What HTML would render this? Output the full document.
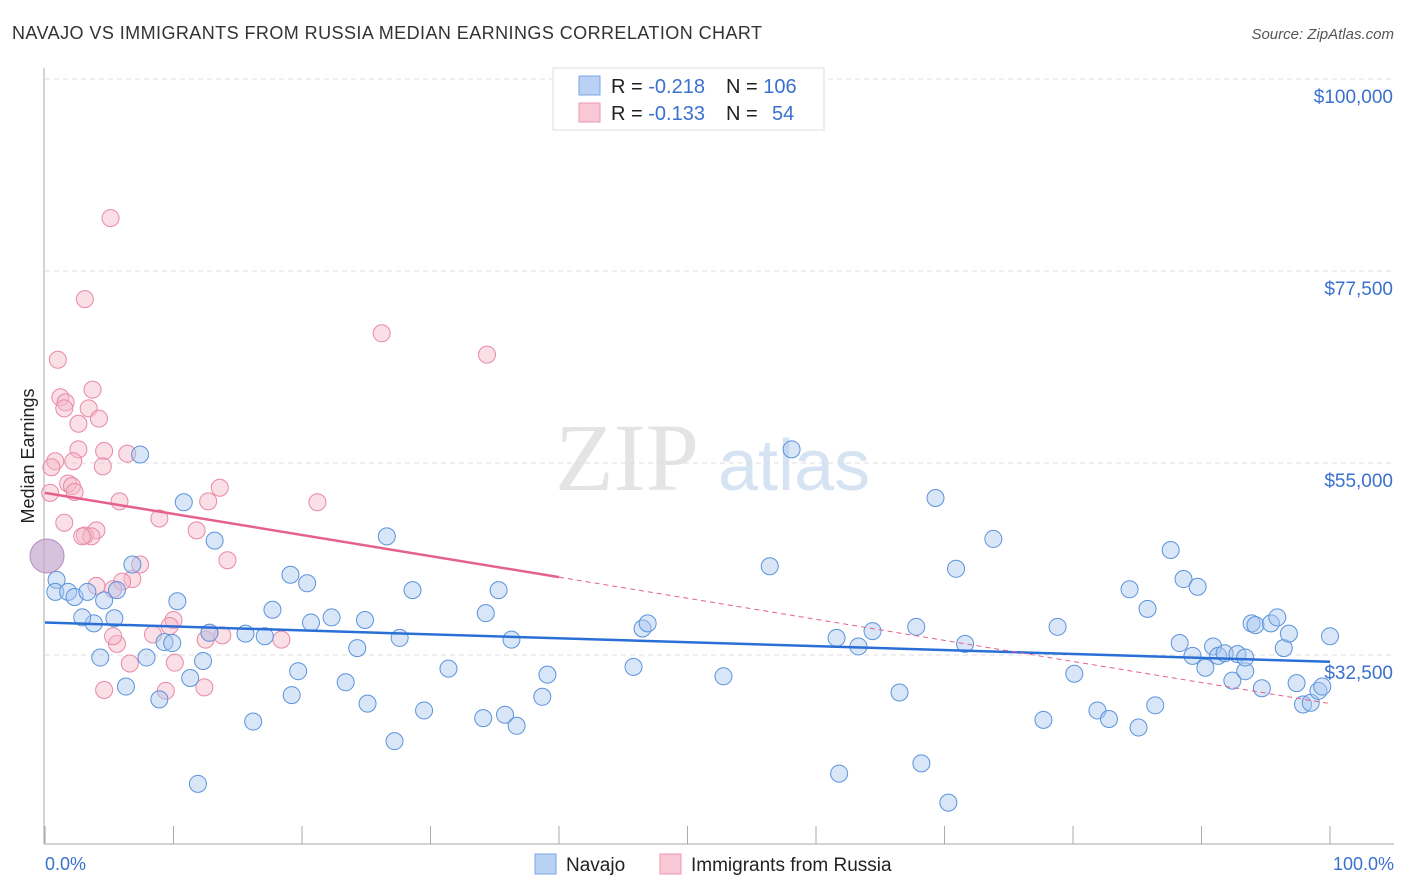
<!DOCTYPE html>
<html><head><meta charset="utf-8"><style>
body{margin:0;background:#fff;font-family:"Liberation Sans",sans-serif;}
svg{display:block}
</style></head><body>
<svg id="chart" width="1406" height="892" xmlns="http://www.w3.org/2000/svg">
<text x="12" y="39" font-size="18" fill="#333" textLength="750">NAVAJO VS IMMIGRANTS FROM RUSSIA MEDIAN EARNINGS CORRELATION CHART</text>
<text x="1394" y="39" font-size="15" fill="#555" font-style="italic" text-anchor="end">Source: ZipAtlas.com</text>
<text x="34" y="456" font-size="18" fill="#222" text-anchor="middle" transform="rotate(-90 34 456)">Median Earnings</text>
<text x="555" y="490" font-size="96" fill="#e4e4e4" font-family="Liberation Serif, serif">ZIP</text>
<text x="718" y="490" font-size="72" fill="#d6e3f3">atlas</text>
<g id="grid"></g><g id="marks"></g>
<g>
<rect x="553" y="68" width="271" height="62" fill="#fff" stroke="#ddd"/>
<rect x="579" y="76" width="21" height="19" fill="#b9d2f3" stroke="#7aa6e4"/>
<rect x="579" y="103" width="21" height="19" fill="#f9c8d6" stroke="#ee97b0"/>
<text x="611" y="93" font-size="20" fill="#222">R = <tspan fill="#3a70d0">-0.218</tspan></text>
<text x="726" y="93" font-size="20" fill="#222">N = <tspan fill="#3a70d0">106</tspan></text>
<text x="611" y="120" font-size="20" fill="#222">R = <tspan fill="#3a70d0">-0.133</tspan></text>
<text x="726" y="120" font-size="20" fill="#222">N = <tspan fill="#3a70d0" x="772">54</tspan></text>
</g>
<g>
<rect x="535" y="854" width="21" height="20" fill="#b9d2f3" stroke="#7aa6e4"/>
<text x="566" y="871" font-size="19" fill="#222">Navajo</text>
<rect x="660" y="854" width="21" height="20" fill="#f9c8d6" stroke="#ee97b0"/>
<text x="691" y="871" font-size="19" fill="#222">Immigrants from Russia</text>
</g>
<text x="45" y="870" font-size="18" fill="#3a70d0">0.0%</text>
<text x="1394" y="870" font-size="18" fill="#3a70d0" text-anchor="end">100.0%</text>
</svg>
<script>
const yTicks=[100000,77500,55000,32500];
const yTickLabels=["$100,000","$77,500","$55,000","$32,500"];
const xTicks=[0,10,20,30,40,50,60,70,80,90,100];
const navajoX=[0.9,0.8,1.8,2.3,3.3,3.8,2.9,4.6,5.4,5.6,4.3,6.3,6.8,7.4,7.9,8.9,9.3,9.9,10.3,10.8,11.3,12.3,12.8,13.2,15.6,16.2,17.1,17.7,19.1,19.2,19.7,20.4,20.7,22.3,23.4,24.3,24.9,25.1,26.6,27.2,27.6,28.6,29.5,31.4,34.1,34.3,35.3,35.8,36.3,36.7,38.7,39.1,45.8,46.5,46.9,52.8,56.4,58.1,61.6,61.8,63.3,64.4,66.5,67.8,68.2,69.3,70.3,70.9,71.6,73.8,77.7,78.8,80.1,81.9,82.8,84.4,85.1,85.8,86.4,87.6,88.3,88.6,89.3,89.7,90.3,90.9,91.3,91.8,92.4,92.8,93.4,93.9,94.2,94.7,95.4,95.9,96.4,96.8,97.4,97.9,98.5,99.1,99.4,100,11.9,93.4];
const navajoY=[41.3,39.9,39.9,39.3,39.9,36.2,36.9,38.9,36.8,40.1,32.2,28.8,43.1,56.0,32.2,27.3,34.0,33.9,38.8,50.4,29.8,31.8,35.1,45.9,35.0,24.7,34.7,37.8,41.9,27.8,30.6,40.9,36.3,36.9,29.3,33.3,36.6,26.8,46.4,22.4,34.5,40.1,26.0,30.9,25.1,37.4,40.1,25.5,34.3,24.2,27.6,30.2,31.1,35.6,36.2,30.0,42.9,56.6,34.5,18.6,33.5,35.3,28.1,35.8,19.8,50.9,15.2,42.6,33.8,46.1,24.9,35.8,30.3,26.0,25.0,40.2,24.0,37.9,26.6,44.8,33.9,41.4,32.4,40.5,31.0,33.5,32.4,32.7,29.5,32.6,30.6,36.2,36.0,28.6,36.2,36.9,33.3,35.0,29.2,26.7,26.9,28.3,28.8,34.7,17.4,32.2];
const russiaX=[5.1,3.1,26.2,34.4,1.0,3.7,1.2,1.6,1.5,3.4,2.6,4.2,2.6,4.6,6.4,0.8,2.2,0.5,4.5,1.8,2.1,2.3,0.4,5.8,13.6,12.7,21.2,8.9,11.8,4.0,3.1,3.6,2.9,14.2,7.4,6.8,4.0,6.0,5.3,10.0,9.7,8.4,13.8,12.5,18.4,5.6,12.8,10.1,6.6,4.6,9.4,12.4,5.3,1.5];
const russiaY=[83.7,74.2,70.2,67.7,67.1,63.6,62.7,62.1,61.4,61.4,59.6,60.2,56.6,56.4,56.1,55.2,55.2,54.5,54.6,52.6,52.3,51.6,51.5,50.5,52.1,50.5,50.4,48.5,47.1,47.1,46.5,46.4,46.4,43.6,43.1,41.4,40.6,41.1,40.2,36.6,35.9,34.9,34.8,34.3,34.3,33.8,35.1,31.6,31.5,28.4,28.3,28.7,34.7,48.0];
const trendNavajo=[36.3,31.7];
const trendRussia=[51.5,26.8];
const ns="http://www.w3.org/2000/svg";
const X=p=>45+p*12.85, Y=v=>79+(100-v)*8.533;
const grid=document.getElementById('grid'), marks=document.getElementById('marks');
function mk(tag,a,parent){const e=document.createElementNS(ns,tag);for(const k in a)e.setAttribute(k,a[k]);parent.appendChild(e);return e;}
yTicks.forEach((t,i)=>{
 const l=mk('line',{x1:45,x2:1394,y1:Y(t/1000),y2:Y(t/1000),stroke:'#ddd','stroke-dasharray':'5,4'},grid);
 
 
 const tx=mk('text',{x:1393,y:Y(t/1000)+24,'font-size':19,fill:'#3a70d0','text-anchor':'end'},grid);
 tx.textContent=yTickLabels[i];
 
 
});
const ax=mk('line',{x1:44,x2:44,y1:68,y2:844,stroke:'#aaa'},grid);


const bx=mk('line',{x1:44,x2:1394,y1:844,y2:844,stroke:'#aaa'},grid);


xTicks.forEach(t=>{
 const l=mk('line',{x1:X(t),x2:X(t),y1:826,y2:844,stroke:'#aaa'},grid);
 
 
});
function pts(xs,ys,fill,stroke,name){
 xs.forEach((x,i)=>{
  const c=mk('circle',{cx:X(x),cy:Y(ys[i]),r:8.5,fill:fill,'fill-opacity':0.45,stroke:stroke,'stroke-width':1},marks);
  
  
 });
}
pts(russiaX,russiaY,'#f5b7c9','#e889a6','russia-point');
pts(navajoX,navajoY,'#a8c7f0','#5b93dc','navajo-point');
const big=mk('circle',{cx:47,cy:556,r:17,fill:'#c6a8cf','fill-opacity':0.7,stroke:'#b48cc0'},marks);


const tn=mk('line',{x1:X(0),y1:Y(trendNavajo[0]),x2:X(100),y2:Y(trendNavajo[1]),stroke:'#2a6fd6','stroke-width':2.5},marks);


const ry=p=>trendRussia[0]+(trendRussia[1]-trendRussia[0])*p/100;
const tr=mk('line',{x1:X(0),y1:Y(ry(0)),x2:X(40),y2:Y(ry(40)),stroke:'#e5608a','stroke-width':2.5},marks);


const td=mk('line',{x1:X(40),y1:Y(ry(40)),x2:X(100),y2:Y(ry(100)),stroke:'#e5608a','stroke-width':1,'stroke-dasharray':'5,4'},marks);


</script>
</body></html>
